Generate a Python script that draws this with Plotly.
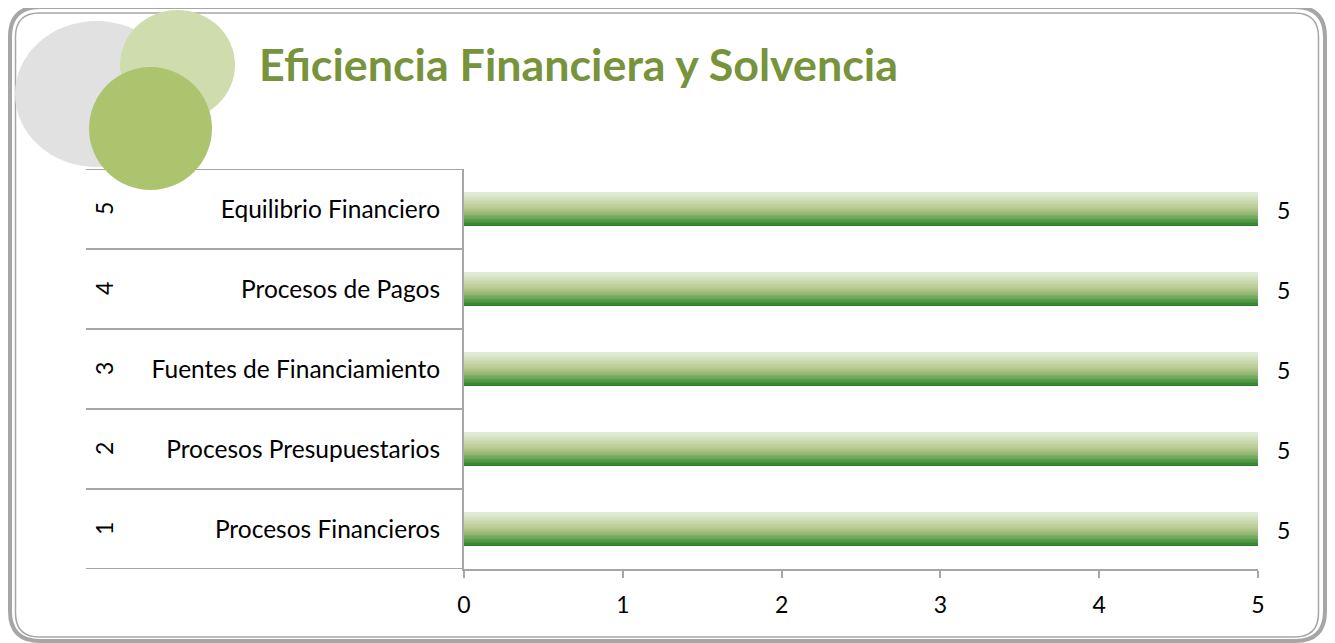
import plotly.graph_objects as go

# ---------------- data ----------------
categories = ["Procesos Financieros", "Procesos Presupuestarios", "Fuentes de Financiamiento",
              "Procesos de Pagos", "Equilibrio Financiero"]
group_numbers = ["1", "2", "3", "4", "5"]
values = [5, 5, 5, 5, 5]
x_ticks = [0, 1, 2, 3, 4, 5]
title_text = "Eficiencia Financiera y Solvencia"

# ---------------- layout geometry (pixels) ----------------
OFF = 8  # page body margin
W, H = 1335 - OFF, 643 - OFF
L, R, T, B = 464 - OFF, 1258 - OFF, 169 - OFF, 569 - OFF
FONT = "Lato, 'Open Sans', sans-serif"
GRAY = "#A6A6A6"


def px(x):
    return (x - OFF - L) / (R - L)


def py(y):
    return (B - (y - OFF)) / (B - T)


def rounded(x0, y0, x1, y1, r):
    return (f"M {px(x0+r)},{py(y0)} L {px(x1-r)},{py(y0)} Q {px(x1)},{py(y0)} {px(x1)},{py(y0+r)} "
            f"L {px(x1)},{py(y1-r)} Q {px(x1)},{py(y1)} {px(x1-r)},{py(y1)} "
            f"L {px(x0+r)},{py(y1)} Q {px(x0)},{py(y1)} {px(x0)},{py(y1-r)} "
            f"L {px(x0)},{py(y0+r)} Q {px(x0)},{py(y0)} {px(x0+r)},{py(y0)} Z")


fig = go.Figure()

# gradient bars built from thin overlaid slices
BAR_W = 0.41
N = 24
top = (226, 237, 216)
mid = (178, 199, 138)
bot = (26, 122, 30)


def lerp(a, b, t):
    return tuple(int(round(a[i] + (b[i] - a[i]) * t)) for i in range(3))


for i in range(N):
    t = (i + 0.5) / N  # 0 bottom -> 1 top
    if t < 0.5:
        c = lerp(bot, mid, (t / 0.5) ** 0.8)
    else:
        c = lerp(mid, top, (t - 0.5) / 0.5)
    fig.add_trace(go.Bar(
        x=values, y=categories, orientation="h",
        width=BAR_W / N * 1.08, offset=-BAR_W / 2 + i * BAR_W / N,
        marker=dict(color=f"rgb{c}", line=dict(width=0)),
        hoverinfo="skip", showlegend=False,
    ))

# value labels
for v, c in zip(values, categories):
    fig.add_annotation(x=v, y=c, xref="x", yref="y", text=str(v), showarrow=False,
                       xanchor="left", xshift=17, yshift=-1,
                       font=dict(size=23, color="#000000", family=FONT))

# rotated group numbers
for n, c in zip(group_numbers, categories):
    fig.add_annotation(x=px(104), y=c, xref="paper", yref="y", text=n, showarrow=False,
                       xanchor="center", yanchor="middle",
                       textangle=-90, font=dict(size=23, color="#000000", family=FONT))

shapes = []
# category dividers
for k in range(len(categories) + 1):
    shapes.append(dict(type="line", xref="paper", yref="y", x0=px(86), x1=0,
                       y0=k - 0.5, y1=k - 0.5, line=dict(color=GRAY, width=2), layer="below"))

# frame
shapes.append(dict(type="path", xref="paper", yref="paper", path=rounded(10, 7, 1325, 641, 30),
                   line=dict(color=GRAY, width=4)))
shapes.append(dict(type="path", xref="paper", yref="paper", path=rounded(15.5, 13, 1318.5, 637, 24),
                   line=dict(color=GRAY, width=1.5)))

# decorative circles
shapes.append(dict(type="circle", xref="paper", yref="paper", x0=px(15), x1=px(178), y0=py(21), y1=py(167),
                   fillcolor="#E1E1E1", line=dict(width=0)))
shapes.append(dict(type="circle", xref="paper", yref="paper", x0=px(120), x1=px(235), y0=py(10), y1=py(120),
                   fillcolor="#CFDDAE", line=dict(width=0)))
shapes.append(dict(type="circle", xref="paper", yref="paper", x0=px(89), x1=px(212), y0=py(67), y1=py(190),
                   fillcolor="#ADC46E", line=dict(width=0)))

fig.add_annotation(x=px(257), y=py(64), xref="paper", yref="paper", text=f"<b>{title_text}</b>",
                   showarrow=False, xanchor="left", yanchor="middle",
                   font=dict(size=44.8, color="#77933C", family=FONT))

fig.update_layout(
    width=W, height=H,
    margin=dict(l=L, r=W - R, t=T, b=H - B, pad=0),
    paper_bgcolor="#FFFFFF", plot_bgcolor="#FFFFFF",
    barmode="overlay", bargap=0,
    shapes=shapes,
    xaxis=dict(range=[0, 5], tickvals=x_ticks, showgrid=False, zeroline=False,
               showline=True, linecolor=GRAY, linewidth=2,
               ticks="outside", ticklen=7, tickwidth=2, tickcolor=GRAY,
               ticklabelstandoff=7,
               tickfont=dict(size=23, color="#000000", family=FONT), fixedrange=True),
    yaxis=dict(type="category", categoryorder="array", categoryarray=categories,
               range=[-0.5, 4.5], showgrid=False, zeroline=False,
               showline=True, linecolor=GRAY, linewidth=2,
               ticks="outside", ticklen=17, tickcolor="rgba(0,0,0,0)",
               tickfont=dict(size=24.5, color="#000000", family=FONT), fixedrange=True),
)

fig.write_html("out.html")
